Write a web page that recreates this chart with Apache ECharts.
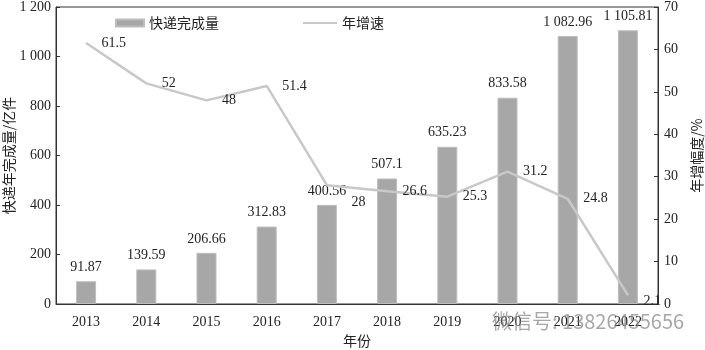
<!DOCTYPE html>
<html>
<head>
<meta charset="utf-8">
<script src="https://cdn.jsdelivr.net/npm/echarts@6/dist/echarts.min.js"></script>
<style>
  html, body { margin: 0; padding: 0; background: #fff; }
  #chart { width: 705px; height: 350px; }
</style>
</head>
<body>
<div id="chart"></div>
<script>
// Express parcel volume (100 million pieces) and annual growth rate (%), 2013-2022
const years = ['2013', '2014', '2015', '2016', '2017', '2018', '2019', '2020', '2021', '2022'];
const volume = [91.87, 139.59, 206.66, 312.83, 400.56, 507.1, 635.23, 833.58, 1082.96, 1105.81];
const growth = [61.5, 52, 48, 51.4, 28, 26.6, 25.3, 31.2, 24.8, 2.1];
const leftTicks = [0, 200, 400, 600, 800, 1000, 1200];
const rightTicks = [0, 10, 20, 30, 40, 50, 60, 70];

const serif = '"Liberation Serif", "Times New Roman", serif';
const cjk = '"Noto Sans CJK SC", sans-serif';
const lineGray = '#c8c8c8';

// thousands separated by a space, as in "1 082.96"
function spaced(v) {
  const parts = String(v).split('.');
  parts[0] = parts[0].replace(/\B(?=(\d{3})+(?!\d))/g, ' ');
  return parts.join('.');
}

// a few growth labels sit slightly off the default right-hand spot
const growthLabelNudge = { 4: [9, 17], 9: [0, 6] };

const chart = echarts.init(document.getElementById('chart'), null, { renderer: 'canvas' });
chart.setOption({
  animation: false,
  backgroundColor: '#fff',
  grid: {
    left: 56, right: 47, top: 7, bottom: 46,
    containLabel: false,
    outerBoundsMode: 'none',
    show: true, borderColor: '#333', borderWidth: 1
  },
  legend: [
    {
      data: [{ name: '快递完成量', icon: 'rect' }],
      left: 110, top: 11,
      itemWidth: 28, itemHeight: 7, itemGap: 10,
      textStyle: { fontFamily: cjk, fontSize: 14, color: '#222' }
    },
    {
      data: [{ name: '年增速', icon: 'rect', itemStyle: { color: lineGray, opacity: 1 } }],
      left: 298, top: 11,
      itemWidth: 34, itemHeight: 2, itemGap: 5,
      textStyle: { fontFamily: cjk, fontSize: 14, color: '#222' }
    }
  ],
  xAxis: {
    type: 'category',
    data: years,
    name: '年份',
    nameLocation: 'middle',
    nameGap: 30,
    nameTextStyle: { fontFamily: cjk, fontSize: 14, color: '#222' },
    axisLine: { lineStyle: { color: '#333', width: 1 } },
    axisTick: { show: false },
    axisLabel: { fontFamily: serif, fontSize: 14, color: '#222', margin: 11 }
  },
  yAxis: [
    {
      type: 'value',
      min: leftTicks[0],
      max: leftTicks[leftTicks.length - 1],
      interval: leftTicks[1] - leftTicks[0],
      name: '快递年完成量/亿件',
      nameLocation: 'middle',
      nameRotate: 90,
      nameGap: 40,
      nameMoveOverlap: false,
      nameTextStyle: { fontFamily: cjk, fontSize: 14, color: '#222' },
      axisLine: { show: true, lineStyle: { color: '#333', width: 1 } },
      axisTick: { show: true, inside: true, length: 4, lineStyle: { color: '#333' } },
      axisLabel: { fontFamily: serif, fontSize: 14, color: '#222', margin: 5, formatter: v => spaced(v) },
      splitLine: { show: false }
    },
    {
      type: 'value',
      min: rightTicks[0],
      max: rightTicks[rightTicks.length - 1],
      interval: rightTicks[1] - rightTicks[0],
      name: '年增幅度/%',
      nameLocation: 'middle',
      nameRotate: 90,
      nameGap: 32,
      nameTextStyle: { fontFamily: cjk, fontSize: 14, color: '#222' },
      axisLine: { show: true, lineStyle: { color: '#333', width: 1 } },
      axisTick: { show: true, inside: true, length: 4, lineStyle: { color: '#333' } },
      axisLabel: { fontFamily: serif, fontSize: 14, color: '#222', margin: 6 },
      splitLine: { show: false }
    }
  ],
  series: [
    {
      name: '快递完成量',
      type: 'bar',
      yAxisIndex: 0,
      barWidth: 20,
      data: volume,
      itemStyle: { color: '#a7a7a7', borderColor: '#bdbdbd', borderWidth: 1 },
      label: {
        show: true,
        position: 'top',
        distance: 7,
        fontFamily: serif,
        fontSize: 14,
        color: '#222',
        formatter: p => spaced(p.value)
      },
      z: 2
    },
    {
      name: '年增速',
      type: 'line',
      yAxisIndex: 1,
      data: growth,
      symbol: 'circle',
      symbolSize: 1,
      showSymbol: true,
      lineStyle: { color: lineGray, width: 2.5 },
      itemStyle: { color: lineGray },
      label: {
        show: true,
        position: 'right',
        distance: 15,
        fontFamily: serif,
        fontSize: 14,
        color: '#222'
      },
      labelLayout: params => {
        const n = growthLabelNudge[params.dataIndex];
        return n ? { dx: n[0], dy: n[1], hideOverlap: false } : { hideOverlap: false };
      },
      z: 3
    }
  ],
  graphic: [
    {
      type: 'text',
      left: 492,
      top: 311,
      z: 10,
      style: {
        text: '微信号: 13826455656',
        fontFamily: cjk,
        fontSize: 20,
        fill: 'rgba(130,130,130,0.7)'
      }
    }
  ]
});
</script>
</body>
</html>
